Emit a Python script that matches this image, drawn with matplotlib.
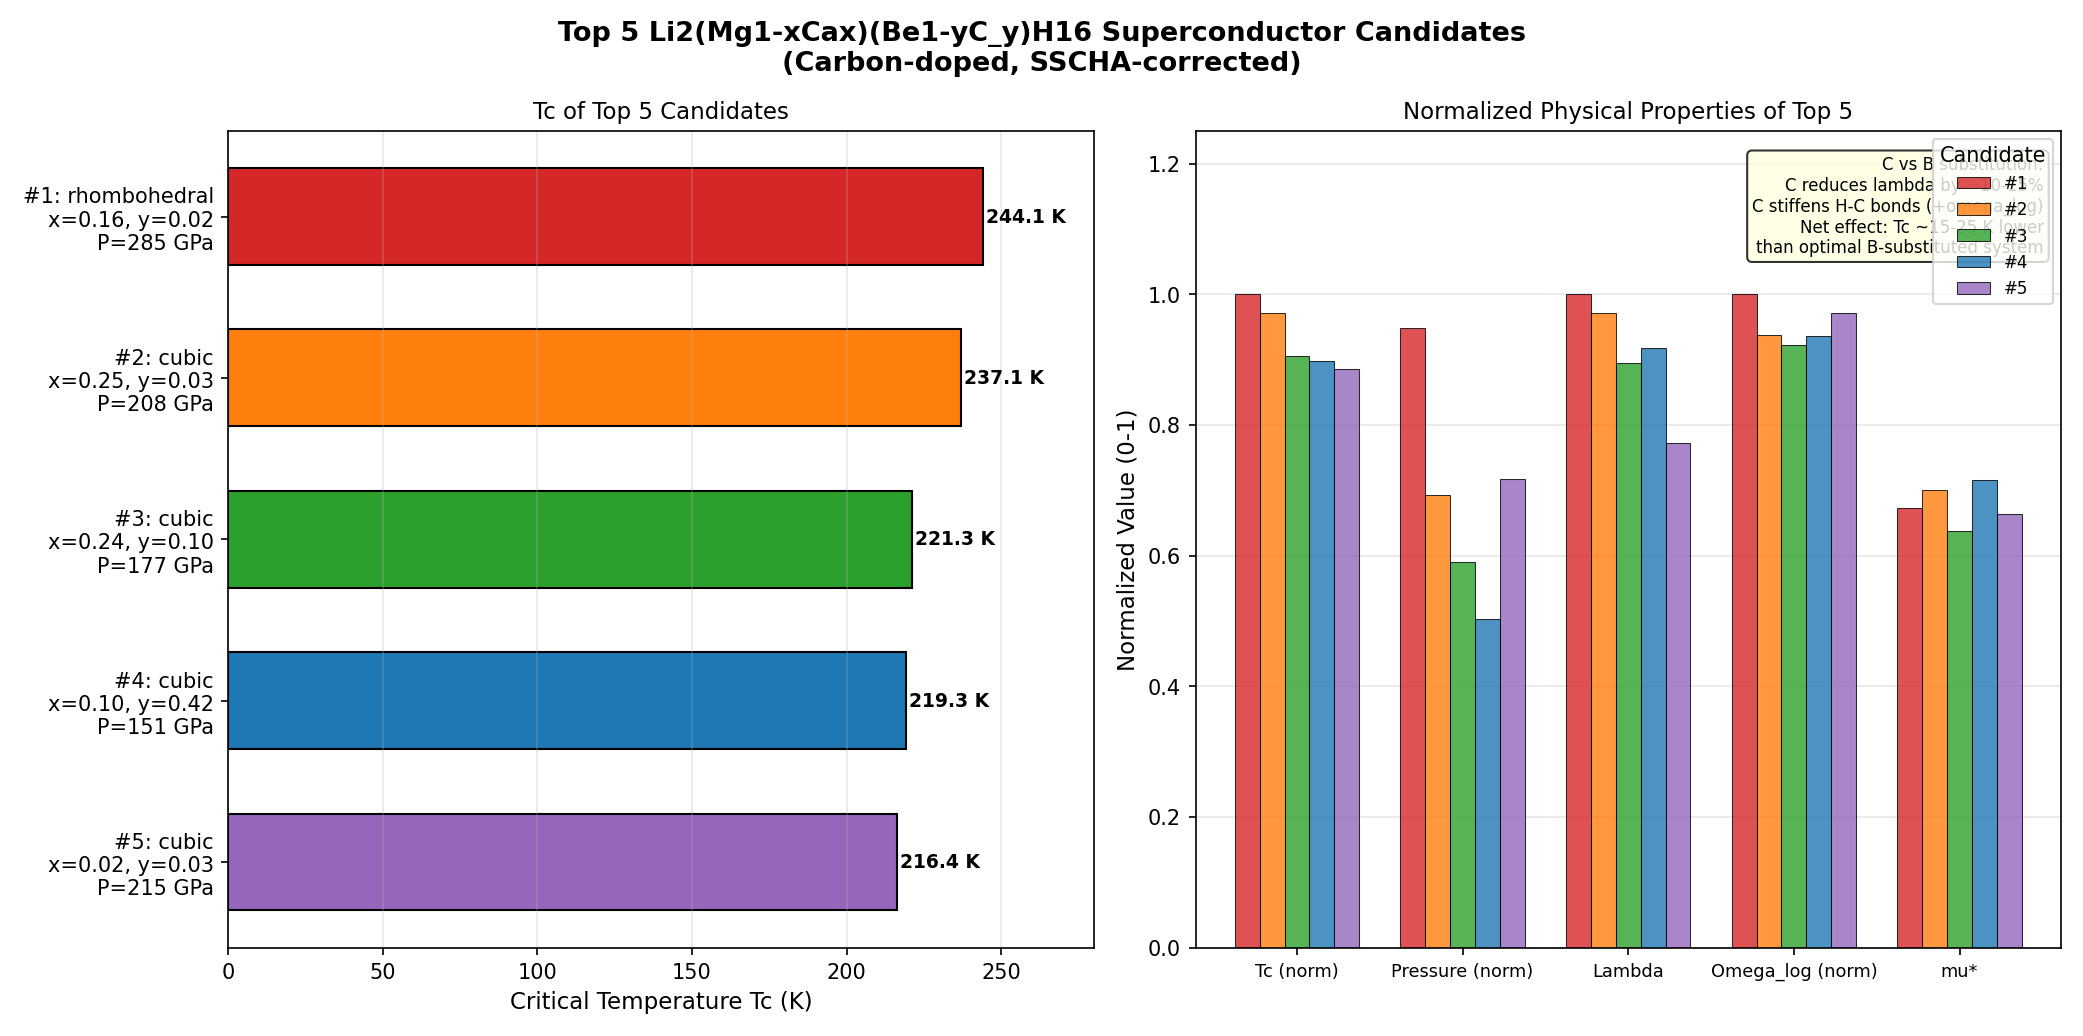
import matplotlib.pyplot as plt
import numpy as np

labels = ['#1: rhombohedral\nx=0.16, y=0.02\nP=285 GPa',
          '#2: cubic\nx=0.25, y=0.03\nP=208 GPa',
          '#3: cubic\nx=0.24, y=0.10\nP=177 GPa',
          '#4: cubic\nx=0.10, y=0.42\nP=151 GPa',
          '#5: cubic\nx=0.02, y=0.03\nP=215 GPa']
tc = [244.1, 237.1, 221.3, 219.3, 216.4]
colors = ['#d62728', '#ff7f0e', '#2ca02c', '#1f77b4', '#9467bd']

props = ['Tc (norm)', 'Pressure (norm)', 'Lambda', 'Omega_log (norm)', 'mu*']
norm_vals = [
    [1.000, 0.948, 1.000, 1.000, 0.673],
    [0.971, 0.693, 0.972, 0.938, 0.700],
    [0.906, 0.590, 0.895, 0.923, 0.637],
    [0.898, 0.503, 0.918, 0.936, 0.715],
    [0.886, 0.717, 0.772, 0.972, 0.664],
]
cand = ['#1', '#2', '#3', '#4', '#5']

fig, (ax1, ax2) = plt.subplots(1, 2, figsize=(13.89, 6.91), dpi=150)

y = np.arange(len(tc))
ax1.barh(y, tc, height=0.6, color=colors, edgecolor='black')
for yi, v in zip(y, tc):
    ax1.text(v + 1, yi, f'{v:.1f} K', va='center', fontsize=9, fontweight='bold')
ax1.set_yticks(y)
ax1.set_yticklabels(labels)
ax1.invert_yaxis()
ax1.set_xlim(0, 280)
ax1.set_xlabel('Critical Temperature Tc (K)', fontsize=11)
ax1.set_title('Tc of Top 5 Candidates', fontsize=11)
ax1.grid(axis='x', alpha=0.3)

x = np.arange(len(props))
w = 0.15
for i, vals in enumerate(norm_vals):
    ax2.bar(x + (i - 2) * w, vals, w, color=colors[i], alpha=0.8,
            edgecolor='black', linewidth=0.5, label=cand[i])
ax2.set_xticks(x)
ax2.set_xticklabels(props, fontsize=8.5)
ax2.set_ylim(0, 1.25)
ax2.set_ylabel('Normalized Value (0-1)', fontsize=11)
ax2.set_title('Normalized Physical Properties of Top 5', fontsize=11)
ax2.grid(axis='y', alpha=0.3)
ax2.set_axisbelow(True)
ax2.text(0.98, 0.97, 'C vs B substitution:\nC reduces lambda by ~10-15%\n'
         'C stiffens H-C bonds (+omega_log)\nNet effect: Tc ~15-25 K lower\n'
         'than optimal B-substituted system',
         transform=ax2.transAxes, ha='right', va='top', fontsize=8,
         bbox=dict(boxstyle='round', facecolor='lightyellow', alpha=0.8))
ax2.legend(title='Candidate', fontsize=8, loc='upper right')

fig.suptitle('Top 5 Li2(Mg1-xCax)(Be1-yC_y)H16 Superconductor Candidates\n(Carbon-doped, SSCHA-corrected)',
             fontsize=13, fontweight='bold')
plt.tight_layout()
plt.savefig('out.png')
